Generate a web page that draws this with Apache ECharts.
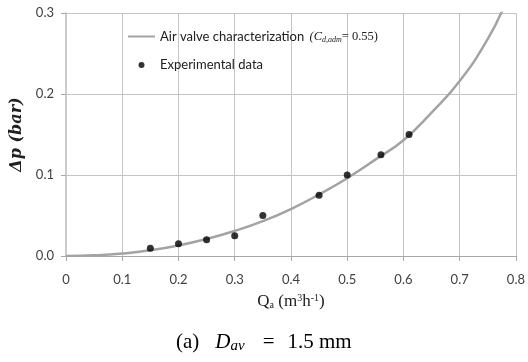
<!DOCTYPE html>
<html>
<head>
<meta charset="utf-8">
<script src="https://cdn.jsdelivr.net/npm/echarts@6/dist/echarts.min.js"></script>
<style>
  html, body { margin: 0; padding: 0; background: #fff; }
  #chart { width: 528px; height: 362px; }
</style>
</head>
<body>
<div id="chart"></div>
<script>
// air valve characterization curve
var curveQ = [0, 0.05, 0.1, 0.15, 0.2, 0.25, 0.3, 0.35, 0.4, 0.45, 0.5, 0.55, 0.6, 0.65, 0.7, 0.75, 0.78];
var curveDp = [0, 0.0008, 0.003, 0.007, 0.013, 0.021, 0.031, 0.043, 0.058, 0.076, 0.096, 0.119, 0.143, 0.177, 0.216, 0.268, 0.31];

// experimental points
var expQ = [0.15, 0.2, 0.25, 0.3, 0.35, 0.45, 0.5, 0.56, 0.61];
var expDp = [0.0095, 0.015, 0.02, 0.025, 0.05, 0.075, 0.1, 0.125, 0.15];

var curveName = 'Air valve characterization';
var expName = 'Experimental data';

var chart = echarts.init(document.getElementById('chart'));

function pairs(xs, ys) {
    return xs.map(function (x, i) { return [x, ys[i]]; });
}

var gridColor = '#c4c4c4';
var labelColor = '#404040';
var sans = 'Lato';
var serif = 'Liberation Serif';

chart.setOption({
    animation: false,
    grid: { left: 66, right: 11, top: 13, bottom: 106 },
    legend: {
        orient: 'vertical',
        left: 127,
        top: 30,
        padding: 0,
        itemGap: 15,
        itemWidth: 27,
        itemHeight: 6,
        data: [
            // line only, no marker in the legend
            { name: curveName, itemStyle: { color: 'rgba(0,0,0,0)', opacity: 0 } },
            { name: expName }
        ],
        formatter: function (name) {
            if (name === curveName) {
                return 'Air valve characterization {it|(C}{sub|d,adm}{eq|= 0.55)}';
            }
            return name;
        },
        textStyle: {
            fontFamily: sans,
            fontSize: 13,
            color: '#202020',
            rich: {
                it: { fontFamily: serif, fontStyle: 'italic', fontSize: 12.5, color: '#202020', padding: [0, 0, 0, 2] },
                sub: { fontFamily: serif, fontStyle: 'italic', fontSize: 8, color: '#202020', padding: [6, 0, 0, 0] },
                eq: { fontFamily: serif, fontSize: 12.5, color: '#202020' }
            }
        }
    },
    xAxis: {
        type: 'value',
        min: 0,
        max: 0.8,
        interval: 0.1,
        name: 'Q{s|a} (m{p|3}h{p|-1})',
        nameLocation: 'middle',
        nameGap: 37,
        nameTextStyle: {
            fontFamily: serif,
            fontSize: 17,
            color: '#202020',
            rich: {
                s: { fontFamily: serif, fontSize: 10, color: '#202020', padding: [7, 0, 0, 0] },
                p: { fontFamily: serif, fontSize: 10, color: '#202020', padding: [0, 0, 7, 0] }
            }
        },
        axisLine: { show: true, lineStyle: { color: '#a8a8a8', width: 1 } },
        axisTick: { show: true, length: 5, lineStyle: { color: '#a8a8a8' } },
        axisLabel: {
            margin: 17,
            fontFamily: sans,
            fontSize: 13,
            color: labelColor,
            formatter: function (v) { return v === 0 ? '0' : v.toFixed(1); }
        },
        splitLine: { show: true, lineStyle: { color: gridColor, width: 1 } }
    },
    yAxis: {
        type: 'value',
        min: 0,
        max: 0.3,
        interval: 0.1,
        name: 'Δp (bar)',
        nameLocation: 'middle',
        nameGap: 35,
        nameTextStyle: {
            fontFamily: 'DejaVu Serif',
            fontStyle: 'italic',
            fontWeight: 'bold',
            fontSize: 16,
            color: '#202020'
        },
        axisLine: { show: true, lineStyle: { color: '#cccccc', width: 2 } },
        axisTick: { show: true, length: 5, lineStyle: { color: '#a8a8a8' } },
        axisLabel: {
            margin: 12,
            fontFamily: sans,
            fontSize: 13,
            color: labelColor,
            formatter: function (v) { return v.toFixed(1); }
        },
        splitLine: { show: true, lineStyle: { color: gridColor, width: 1 } }
    },
    graphic: [{
        type: 'text',
        x: 176,
        y: 342,
        style: {
            text: '{r|(a)}{i|D}{s|av}{eq|=}{r|1.5 mm}',
            verticalAlign: 'middle',
            fill: '#000',
            rich: {
                r: { fontFamily: serif, fontSize: 21, fill: '#000' },
                i: { fontFamily: serif, fontStyle: 'italic', fontSize: 21, fill: '#000', padding: [0, 0, 0, 16] },
                s: { fontFamily: serif, fontStyle: 'italic', fontSize: 15, fill: '#000', padding: [8, 6, 0, 0] },
                eq: { fontFamily: serif, fontSize: 21, fill: '#000', padding: [0, 13, 0, 12] }
            }
        }
    }],
    series: [
        {
            name: curveName,
            type: 'line',
            smooth: true,
            symbol: 'none',
            data: pairs(curveQ, curveDp),
            lineStyle: { color: '#a3a3a3', width: 2.5 },
            itemStyle: { color: '#a3a3a3' },
            z: 2
        },
        {
            name: expName,
            type: 'scatter',
            symbol: 'circle',
            symbolSize: 7,
            data: pairs(expQ, expDp),
            itemStyle: { color: '#000' },
            z: 3
        }
    ]
});
</script>
</body>
</html>
